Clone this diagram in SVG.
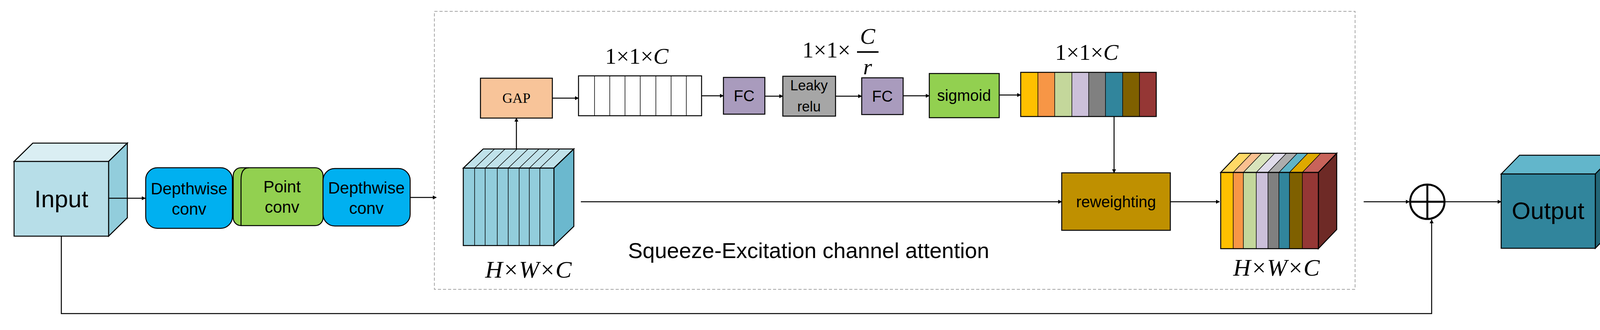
<svg xmlns="http://www.w3.org/2000/svg" width="4161" height="844" viewBox="0 0 4161 844">
<defs>
<marker id="ah" markerWidth="10" markerHeight="10" refX="9" refY="5" orient="auto" markerUnits="userSpaceOnUse"><path d="M0,0 L10,5 L0,10 Z" fill="#000"/></marker>
<style>
.s{font-family:"Liberation Sans",Arial,sans-serif;fill:#000;text-anchor:middle}
.m{font-family:"Liberation Serif","Times New Roman",serif;fill:#000}
.i{font-style:italic}
.b{stroke:#000;stroke-width:2.5}
.l{stroke:#000;stroke-width:2.5;fill:none}
.c{stroke:#000;stroke-width:2.5;fill:none;marker-end:url(#ah)}
</style>
</defs>
<rect width="4161" height="844" fill="#fff"/>
<rect x="1112" y="29" width="2357" height="711" fill="none" stroke="#A6A6A6" stroke-width="2" stroke-dasharray="8,5"/>
<text class="s" x="2070" y="660" font-size="56">Squeeze-Excitation channel attention</text>

<g id="input">
<polygon class="b" points="36,413 84,366 326,366 278,413" fill="#DAEEF3"/>
<polygon class="b" points="278,413 326,366 326,557 278,604" fill="#92CDDC"/>
<rect class="b" x="36" y="413" width="242" height="191" fill="#B7DEE8"/>
<text class="s" x="157" y="530" font-size="62">Input</text>
</g>
<g id="dw1">
<rect class="b" x="373" y="429" width="222" height="155" rx="30" fill="#00B0F0"/>
<text class="s" x="484" y="497" font-size="42">Depthwise</text>
<text class="s" x="484" y="549" font-size="42">conv</text>
</g>
<g id="pw">
<rect class="b" x="597" y="429" width="230" height="148" rx="20" fill="#92D050"/>
<path class="l" d="M637,429 Q617,429 617,460 L617,577" stroke-width="1.5"/>
<text class="s" x="722" y="492" font-size="42">Point</text>
<text class="s" x="722" y="544" font-size="42">conv</text>
</g>
<g id="dw2">
<rect class="b" x="827" y="431" width="223" height="147" rx="30" fill="#00B0F0"/>
<text class="s" x="938" y="495" font-size="42">Depthwise</text>
<text class="s" x="938" y="547" font-size="42">conv</text>
</g>
<g id="feat">
<polygon class="b" points="1186,430 1237,381 1469,381 1418,430" fill="#C0E2EA"/>
<polygon class="b" points="1418,430 1469,381 1469,579 1418,628" fill="#6BB8CE"/>
<rect class="b" x="1186" y="430" width="232" height="198" fill="#92CDDC"/>
<g stroke="#000" stroke-width="1.5">
<path d="M1215,430V628M1242,430V628M1273,430V628M1301,430V628M1329,430V628M1355,430V628M1382,430V628"/>
<path d="M1215,430L1266,381M1242,430L1293,381M1273,430L1324,381M1301,430L1352,381M1329,430L1380,381M1355,430L1406,381M1382,430L1433,381"/>
</g>
<text class="m i" x="1242" y="710" font-size="62">H×W×C</text>
</g>
<g id="gap">
<rect class="b" x="1230" y="200" width="184" height="102" fill="#F8C499"/>
<text class="m" x="1322" y="263" font-size="36" text-anchor="middle">GAP</text>
</g>
<g id="vec">
<rect class="b" x="1481" y="194" width="315" height="102" fill="#fff"/>
<path stroke="#000" stroke-width="1.5" d="M1522,194V296M1561,194V296M1600,194V296M1639,194V296M1679,194V296M1718,194V296M1757,194V296"/>
<text class="m" x="1549" y="163" font-size="58">1×1×<tspan class="i">C</tspan></text>
</g>
<g id="fc1">
<rect class="b" x="1852" y="198" width="106" height="94" fill="#A99BBD"/>
<text class="s" x="1905" y="259" font-size="40">FC</text>
</g>
<g id="leaky">
<rect class="b" x="2004" y="195" width="135" height="102" fill="#A6A6A6"/>
<text class="s" x="2071" y="231" font-size="36">Leaky</text>
<text class="s" x="2071" y="285" font-size="36">relu</text>
</g>
<g id="frac">
<text class="m" x="2054" y="147" font-size="58">1×1×</text>
<text class="m i" x="2221" y="112" font-size="58" text-anchor="middle">C</text>
<line x1="2194" y1="133" x2="2249" y2="133" stroke="#000" stroke-width="4"/>
<text class="m i" x="2221" y="190" font-size="58" text-anchor="middle">r</text>
</g>
<g id="fc2">
<rect class="b" x="2206" y="199" width="106" height="94" fill="#A99BBD"/>
<text class="s" x="2259" y="260" font-size="40">FC</text>
</g>
<g id="sigmoid">
<rect class="b" x="2379" y="188" width="179" height="113" fill="#92D050"/>
<text class="s" x="2468" y="258" font-size="40">sigmoid</text>
</g>
<g id="weights">
<rect x="2613" y="185" width="44" height="113" fill="#FFC000"/>
<rect x="2657" y="185" width="43" height="113" fill="#F79646"/>
<rect x="2700" y="185" width="44" height="113" fill="#C4D79B"/>
<rect x="2744" y="185" width="43" height="113" fill="#CCC0DA"/>
<rect x="2787" y="185" width="43" height="113" fill="#808080"/>
<rect x="2830" y="185" width="44" height="113" fill="#31859C"/>
<rect x="2874" y="185" width="43" height="113" fill="#7F6000"/>
<rect x="2917" y="185" width="43" height="113" fill="#953735"/>
<path stroke="#000" stroke-width="1.5" d="M2657,185V298M2700,185V298M2744,185V298M2787,185V298M2830,185V298M2874,185V298M2917,185V298"/>
<rect class="b" x="2613" y="185" width="347" height="113" fill="none"/>
<text class="m" x="2701" y="153" font-size="58">1×1×<tspan class="i">C</tspan></text>
</g>
<g id="reweight">
<rect class="b" x="2718" y="442" width="278" height="147" fill="#BF9000"/>
<text class="s" x="2857" y="530" font-size="40">reweighting</text>
</g>
<g id="stack">
<polygon points="3125,441 3172,392 3204,392 3157,441" fill="#FFD966"/>
<polygon points="3157,441 3204,392 3230,392 3183,441" fill="#FAC090"/>
<polygon points="3183,441 3230,392 3263,392 3216,441" fill="#D8E4BC"/>
<polygon points="3216,441 3263,392 3293,392 3246,441" fill="#E0DCEB"/>
<polygon points="3246,441 3293,392 3321,392 3274,441" fill="#ADADAD"/>
<polygon points="3274,441 3321,392 3348,392 3301,441" fill="#5FB4C8"/>
<polygon points="3301,441 3348,392 3381,392 3334,441" fill="#DEA900"/>
<polygon points="3334,441 3381,392 3422,392 3375,441" fill="#C8635A"/>
<polygon class="b" points="3375,441 3422,392 3422,587 3375,636" fill="#6E2A26"/>
<rect x="3125" y="441" width="32" height="195" fill="#FFC000"/>
<rect x="3157" y="441" width="26" height="195" fill="#F79646"/>
<rect x="3183" y="441" width="33" height="195" fill="#C4D79B"/>
<rect x="3216" y="441" width="30" height="195" fill="#CCC0DA"/>
<rect x="3246" y="441" width="28" height="195" fill="#808080"/>
<rect x="3274" y="441" width="27" height="195" fill="#31859C"/>
<rect x="3301" y="441" width="33" height="195" fill="#7F6000"/>
<rect x="3334" y="441" width="41" height="195" fill="#953735"/>
<g stroke="#000" stroke-width="1.5" fill="none">
<path d="M3157,441V636M3183,441V636M3216,441V636M3246,441V636M3274,441V636M3301,441V636M3334,441V636"/>
<path d="M3157,441L3204,392M3183,441L3230,392M3216,441L3263,392M3246,441L3293,392M3274,441L3321,392M3301,441L3348,392M3334,441L3381,392"/>
</g>
<polygon class="b" points="3125,441 3172,392 3422,392 3375,441" fill="none"/>
<rect class="b" x="3125" y="441" width="250" height="195" fill="none"/>
<text class="m i" x="3157" y="705" font-size="62">H×W×C</text>
</g>
<g id="add">
<circle cx="3654" cy="516" r="44" fill="#fff" stroke="#000" stroke-width="5"/>
<path d="M3610,516H3698M3654,472V560" stroke="#000" stroke-width="5"/>
</g>
<g id="output">
<polygon class="b" points="3843,445 3890,397 4131,397 4084,445" fill="#62B6CB"/>
<polygon class="b" points="4084,445 4131,397 4131,587 4084,635" fill="#236677"/>
<rect class="b" x="3843" y="445" width="241" height="190" fill="#31859C"/>
<text class="s" x="3963" y="560" font-size="62">Output</text>
</g>
<g id="connectors">
<path class="c" d="M278,507H372"/>
<path class="c" d="M1050,505H1117"/>
<path class="c" d="M1322,381V302"/>
<path class="c" d="M1414,251H1481"/>
<path class="c" d="M1796,245H1852"/>
<path class="c" d="M1958,246H2004"/>
<path class="c" d="M2139,246H2206"/>
<path class="c" d="M2312,245H2379"/>
<path class="c" d="M2558,243H2613"/>
<path class="c" d="M2852,298V442"/>
<path class="c" d="M1487,516H2718"/>
<path class="c" d="M2996,516H3122"/>
<path class="c" d="M3491,516H3608"/>
<path class="c" d="M3700,516H3843"/>
<path class="c" d="M157,604V802H3665V562"/>
</g>
</svg>
